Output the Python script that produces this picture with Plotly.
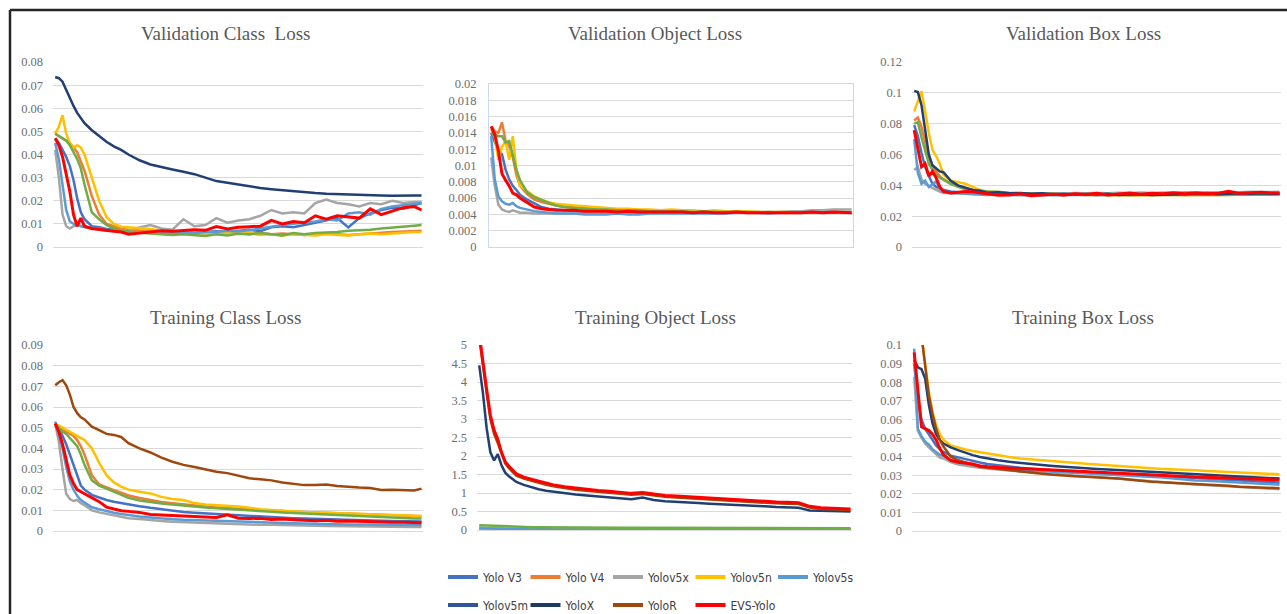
import plotly.graph_objects as go

# ---------------- data ----------------
EPOCHS = [0, 1, 2, 3, 4, 5, 6, 7, 8,
          10, 12, 14, 16, 18, 20,
          23, 26, 29, 32, 35, 38, 41, 44, 47, 50, 53, 56, 59, 62, 65, 68, 71, 74, 77, 80, 83, 86, 89, 92, 95, 98,
          100]

SERIES = ["Yolo V3", "Yolo V4", "Yolov5x", "Yolov5n", "Yolov5s", "Yolov5m", "YoloX", "YoloR", "EVS-Yolo"]

# Validation Class Loss
vcl_yolov3 = [0.047, 0.045, 0.042, 0.039, 0.035, 0.029, 0.021, 0.015, 0.012,
              0.009, 0.0085, 0.0078, 0.0075, 0.007, 0.0062,
              0.006, 0.0065, 0.006, 0.0062, 0.0068, 0.006, 0.0065, 0.0068, 0.0065, 0.007, 0.0075, 0.0068, 0.0085,
              0.009, 0.0085, 0.0095, 0.0105, 0.0115, 0.0125, 0.0085, 0.0125, 0.0145, 0.016, 0.017, 0.0165, 0.018,
              0.019]
vcl_yolov4 = [0.049, 0.048, 0.047, 0.046, 0.045, 0.043, 0.041, 0.037, 0.033,
              0.022, 0.014, 0.010, 0.009, 0.008, 0.0075,
              0.007, 0.0068, 0.0065, 0.006, 0.0062, 0.0058, 0.006, 0.0055, 0.006, 0.0058, 0.0055, 0.006, 0.0055,
              0.0058, 0.0055, 0.0052, 0.0055, 0.0058, 0.0055, 0.0052, 0.0055, 0.006, 0.0062, 0.0065, 0.0068, 0.007,
              0.007]
vcl_yolov5x = [0.042, 0.030, 0.014, 0.009, 0.008, 0.009, 0.0095, 0.009, 0.0085,
               0.008, 0.0075, 0.007, 0.0072, 0.0068, 0.007,
               0.0085, 0.0095, 0.008, 0.0075, 0.012, 0.009, 0.0095, 0.0125, 0.0105, 0.0115, 0.012, 0.0135, 0.016,
               0.0145, 0.015, 0.0145, 0.019, 0.0205, 0.019, 0.0185, 0.0175, 0.019, 0.0185, 0.02, 0.019, 0.0195,
               0.0195]
vcl_yolov5n = [0.049, 0.052, 0.057, 0.049, 0.045, 0.043, 0.044, 0.043, 0.040,
               0.030, 0.020, 0.013, 0.010, 0.0088, 0.0085,
               0.008, 0.0078, 0.007, 0.0065, 0.0068, 0.006, 0.0062, 0.0058, 0.006, 0.0055, 0.006, 0.0052, 0.0055,
               0.005, 0.0055, 0.0052, 0.005, 0.0055, 0.0052, 0.005, 0.0055, 0.0058, 0.0055, 0.006, 0.0062, 0.0065,
               0.0065]
vcl_yolov5s = [0.045, 0.038, 0.027, 0.016, 0.011, 0.010, 0.0098, 0.009, 0.0088,
               0.0085, 0.008, 0.0075, 0.007, 0.0068, 0.0065,
               0.0062, 0.006, 0.0058, 0.006, 0.0062, 0.006, 0.0065, 0.0065, 0.007, 0.0068, 0.0072, 0.008, 0.0088,
               0.0095, 0.010, 0.0105, 0.011, 0.012, 0.0115, 0.0145, 0.015, 0.014, 0.0165, 0.0175, 0.018, 0.0185,
               0.019]
vcl_yolov5m = [0.049, 0.048, 0.047, 0.046, 0.044, 0.041, 0.038, 0.034, 0.027,
               0.015, 0.012, 0.0095, 0.008, 0.007, 0.0068,
               0.0062, 0.0058, 0.0055, 0.0052, 0.0055, 0.005, 0.0048, 0.0055, 0.005, 0.0058, 0.0055, 0.006, 0.0055,
               0.005, 0.006, 0.0055, 0.006, 0.0062, 0.0065, 0.007, 0.0072, 0.0075, 0.008, 0.0085, 0.009, 0.0092,
               0.0095]
vcl_yolox = [0.0735, 0.073, 0.0715, 0.068, 0.064, 0.061, 0.058, 0.0555, 0.0535,
             0.0505, 0.0478, 0.0455, 0.0435, 0.042, 0.040,
             0.0375, 0.0357, 0.0345, 0.0335, 0.0325, 0.0315, 0.030, 0.0285, 0.0278, 0.027, 0.0262, 0.0255, 0.025,
             0.0245, 0.024, 0.0238, 0.0233, 0.023, 0.0228, 0.0227, 0.0224, 0.0225, 0.0223, 0.0222, 0.0224, 0.0223,
             0.0223]
vcl_evs = [0.047, 0.044, 0.039, 0.031, 0.024, 0.014, 0.009, 0.0125, 0.009,
           0.008, 0.0075, 0.0072, 0.0068, 0.0065, 0.0055,
           0.006, 0.0065, 0.007, 0.0068, 0.0072, 0.0075, 0.0072, 0.0088, 0.0078, 0.0085, 0.0088, 0.009, 0.0115,
           0.010, 0.011, 0.0105, 0.0135, 0.012, 0.0135, 0.013, 0.0125, 0.0165, 0.014, 0.0155, 0.017, 0.0175,
           0.016]

# Validation Object Loss
vol_yolov3 = [0.014, 0.0128, 0.0118, 0.0114, 0.0095, 0.0083, 0.0075, 0.0070, 0.0064,
              0.0058, 0.0053, 0.0049, 0.0047, 0.0046, 0.0045,
              0.0044, 0.0043, 0.0043, 0.0043, 0.0043, 0.0042, 0.0043, 0.0042, 0.0043, 0.0042, 0.0042, 0.0043, 0.0042,
              0.0042, 0.0042, 0.0043, 0.0042, 0.0042, 0.0042, 0.0042, 0.0043, 0.0042, 0.0042, 0.0043, 0.0042, 0.0042,
              0.0042]
vol_yolov4 = [0.0148, 0.0142, 0.014, 0.0153, 0.013, 0.0124, 0.011, 0.0088, 0.0075,
              0.0065, 0.0058, 0.0055, 0.0053, 0.0051, 0.005,
              0.0049, 0.0048, 0.0047, 0.0046, 0.0046, 0.0045, 0.0045, 0.0045, 0.0044, 0.0044, 0.0044, 0.0044, 0.0043,
              0.0044, 0.0043, 0.0043, 0.0043, 0.0043, 0.0042, 0.0043, 0.0042, 0.0042, 0.0042, 0.0042, 0.0042, 0.0042,
              0.0042]
vol_yolov5x = [0.011, 0.0075, 0.0052, 0.0046, 0.0044, 0.0043, 0.0045, 0.0043, 0.0042,
               0.0042, 0.0041, 0.0041, 0.0041, 0.0041, 0.0041,
               0.0041, 0.0041, 0.0041, 0.0041, 0.0042, 0.0041, 0.0041, 0.0042, 0.0042, 0.0042, 0.0042, 0.0042, 0.0042,
               0.0043, 0.0042, 0.0043, 0.0043, 0.0043, 0.0043, 0.0043, 0.0044, 0.0044, 0.0045, 0.0045, 0.0046, 0.0046,
               0.0046]
vol_yolov5n = [0.0145, 0.0135, 0.0107, 0.0123, 0.013, 0.0107, 0.0136, 0.0095, 0.0075,
               0.0069, 0.0062, 0.0058, 0.0055, 0.0053, 0.0052,
               0.0051, 0.005, 0.0049, 0.0048, 0.0047, 0.0047, 0.0046, 0.0046, 0.0045, 0.0046, 0.0045, 0.0045, 0.0044,
               0.0045, 0.0044, 0.0044, 0.0044, 0.0043, 0.0043, 0.0043, 0.0043, 0.0042, 0.0042, 0.0042, 0.0042, 0.0042,
               0.0042]
vol_yolov5s = [0.0136, 0.0083, 0.0062, 0.0056, 0.0053, 0.0052, 0.0054, 0.005, 0.0048,
               0.0046, 0.0044, 0.0043, 0.0042, 0.0041, 0.0041,
               0.0041, 0.004, 0.004, 0.004, 0.0041, 0.004, 0.004, 0.0041, 0.0041, 0.0041, 0.0041, 0.0041, 0.0041,
               0.0041, 0.0041, 0.0042, 0.0042, 0.0042, 0.0041, 0.0042, 0.0042, 0.0042, 0.0042, 0.0042, 0.0042, 0.0042,
               0.0042]
vol_yolov5m = [0.014, 0.0138, 0.0136, 0.0136, 0.0128, 0.013, 0.0112, 0.0095, 0.0082,
               0.0067, 0.0061, 0.0057, 0.0054, 0.0051, 0.0049,
               0.0048, 0.0047, 0.0046, 0.0046, 0.0045, 0.0045, 0.0045, 0.0044, 0.0044, 0.0044, 0.0044, 0.0043, 0.0044,
               0.0043, 0.0043, 0.0043, 0.0043, 0.0042, 0.0043, 0.0042, 0.0042, 0.0042, 0.0042, 0.0042, 0.0042, 0.0042,
               0.0042]
vol_evs = [0.0148, 0.0138, 0.0118, 0.009, 0.0082, 0.0075, 0.0066, 0.0064, 0.006,
           0.0054, 0.0049, 0.0047, 0.0046, 0.0045, 0.0045,
           0.0045, 0.0044, 0.0044, 0.0044, 0.0043, 0.0044, 0.0043, 0.0043, 0.0043, 0.0043, 0.0043, 0.0042, 0.0043,
           0.0042, 0.0042, 0.0043, 0.0042, 0.0042, 0.0042, 0.0042, 0.0042, 0.0042, 0.0043, 0.0042, 0.0043, 0.0042,
           0.0042]

# Validation Box Loss
vbl_yolov3 = [0.079, 0.072, 0.061, 0.052, 0.046, 0.041, 0.039, 0.038, 0.037,
              0.036, 0.0355, 0.035, 0.0352, 0.0348, 0.0345,
              0.0345, 0.0342, 0.0345, 0.034, 0.0343, 0.0345, 0.034, 0.0343, 0.0345, 0.0342, 0.034, 0.0344, 0.0342,
              0.0345, 0.0343, 0.0345, 0.0342, 0.0345, 0.0347, 0.0345, 0.0343, 0.0346, 0.0345, 0.0347, 0.0345, 0.0346,
              0.0345]
vbl_yolov4 = [0.082, 0.084, 0.078, 0.068, 0.058, 0.052, 0.049, 0.046, 0.044,
              0.041, 0.0395, 0.038, 0.037, 0.036, 0.0355,
              0.035, 0.0348, 0.0345, 0.0342, 0.0345, 0.034, 0.0338, 0.0342, 0.034, 0.0338, 0.0342, 0.034, 0.0337,
              0.034, 0.0338, 0.0342, 0.034, 0.0338, 0.0341, 0.034, 0.0342, 0.0339, 0.0341, 0.034, 0.0342, 0.034,
              0.034]
vbl_yolov5x = [0.050, 0.052, 0.044, 0.041, 0.0395, 0.038, 0.037, 0.036, 0.035,
               0.0348, 0.0345, 0.0345, 0.0343, 0.0345, 0.0342,
               0.0345, 0.0343, 0.0345, 0.0347, 0.0345, 0.0348, 0.0346, 0.035, 0.0348, 0.0351, 0.0349, 0.0352, 0.035,
               0.0353, 0.0351, 0.0354, 0.0352, 0.0355, 0.0353, 0.0355, 0.0354, 0.0357, 0.0355, 0.0358, 0.0356, 0.0358,
               0.0358]
vbl_yolov5n = [0.088, 0.095, 0.101, 0.088, 0.074, 0.063, 0.059, 0.054, 0.047,
               0.043, 0.042, 0.041, 0.039, 0.037, 0.036,
               0.0355, 0.035, 0.035, 0.0345, 0.034, 0.0342, 0.0338, 0.034, 0.0337, 0.0339, 0.0336, 0.0338, 0.0336,
               0.0337, 0.0335, 0.0338, 0.0336, 0.0337, 0.0338, 0.0336, 0.0338, 0.0337, 0.0339, 0.0338, 0.034, 0.0339,
               0.034]
vbl_yolov5s = [0.070, 0.048, 0.041, 0.043, 0.039, 0.041, 0.0425, 0.038, 0.036,
               0.035, 0.035, 0.0345, 0.0342, 0.034, 0.0338,
               0.034, 0.0337, 0.0335, 0.0338, 0.0336, 0.0338, 0.0335, 0.0337, 0.0339, 0.0336, 0.0338, 0.034, 0.0338,
               0.0341, 0.0339, 0.0342, 0.034, 0.0343, 0.0341, 0.0344, 0.0342, 0.0345, 0.0343, 0.0345, 0.0344, 0.0345,
               0.0345]
vbl_yolov5m = [0.080, 0.081, 0.071, 0.062, 0.054, 0.050, 0.047, 0.045, 0.0435,
               0.041, 0.039, 0.0375, 0.037, 0.0365, 0.036,
               0.0358, 0.035, 0.0348, 0.0345, 0.0342, 0.0345, 0.034, 0.0342, 0.0338, 0.034, 0.0337, 0.0339, 0.0336,
               0.0338, 0.0336, 0.0338, 0.0337, 0.0339, 0.0337, 0.0339, 0.0338, 0.034, 0.0338, 0.034, 0.0339, 0.034,
               0.034]
vbl_yolox = [0.1013, 0.1005, 0.092, 0.075, 0.060, 0.053, 0.051, 0.049, 0.0485,
             0.043, 0.040, 0.0385, 0.037, 0.0365, 0.0352,
             0.0355, 0.0348, 0.035, 0.0345, 0.0348, 0.0342, 0.0345, 0.034, 0.0343, 0.034, 0.0345, 0.0338, 0.034,
             0.0342, 0.0338, 0.034, 0.0342, 0.034, 0.0343, 0.0345, 0.0342, 0.0345, 0.0348, 0.0345, 0.0348, 0.0345,
             0.0345]
vbl_evs = [0.0758, 0.063, 0.052, 0.054, 0.046, 0.049, 0.045, 0.039, 0.036,
           0.035, 0.0355, 0.036, 0.0358, 0.0352, 0.0345,
           0.0336, 0.0338, 0.0345, 0.0332, 0.0338, 0.0342, 0.0338, 0.0345, 0.034, 0.0348, 0.0338, 0.0345, 0.035,
           0.0342, 0.0348, 0.0345, 0.0352, 0.0345, 0.035, 0.0345, 0.0348, 0.0362, 0.0348, 0.0352, 0.0355, 0.035,
           0.035]

# Training Class Loss
tcl_yolov3 = [0.052, 0.049, 0.046, 0.042, 0.037, 0.032, 0.026, 0.022, 0.020,
              0.0175, 0.0162, 0.015, 0.0142, 0.0135, 0.0128,
              0.012, 0.0112, 0.0105, 0.0098, 0.0092, 0.0088, 0.0085, 0.008, 0.0078, 0.0075, 0.0072, 0.007, 0.0068,
              0.0065, 0.0062, 0.006, 0.0058, 0.0056, 0.0055, 0.0053, 0.0052, 0.005, 0.0049, 0.0048, 0.0047, 0.0046,
              0.0046]
tcl_yolov4 = [0.052, 0.050, 0.049, 0.048, 0.047, 0.046, 0.044, 0.041, 0.037,
              0.027, 0.0225, 0.021, 0.0198, 0.0185, 0.0172,
              0.016, 0.015, 0.014, 0.0134, 0.0128, 0.0122, 0.0118, 0.0114, 0.011, 0.0107, 0.0104, 0.0101, 0.0099,
              0.0096, 0.0094, 0.0092, 0.009, 0.0088, 0.0086, 0.0084, 0.0082, 0.008, 0.0078, 0.0076, 0.0074, 0.0072,
              0.0071]
tcl_yolov5x = [0.052, 0.043, 0.030, 0.018, 0.0155, 0.0145, 0.015, 0.0135, 0.0125,
               0.010, 0.009, 0.0083, 0.0075, 0.007, 0.0062,
               0.0058, 0.0052, 0.0048, 0.0045, 0.0043, 0.004, 0.0038, 0.0036, 0.0035, 0.0033, 0.0032, 0.003, 0.003,
               0.0028, 0.0027, 0.0026, 0.0025, 0.0024, 0.0023, 0.0022, 0.0022, 0.0021, 0.002, 0.002, 0.0019, 0.0019,
               0.0019]
tcl_yolov5n = [0.052, 0.051, 0.050, 0.049, 0.048, 0.047, 0.046, 0.045, 0.044,
               0.040, 0.033, 0.027, 0.0235, 0.0215, 0.020,
               0.019, 0.0182, 0.0165, 0.0155, 0.015, 0.0135, 0.0128, 0.0125, 0.012, 0.0118, 0.0112, 0.0105, 0.0102,
               0.0098, 0.0095, 0.0092, 0.009, 0.0087, 0.0086, 0.0085, 0.0083, 0.008, 0.0078, 0.0077, 0.0075, 0.0074,
               0.0072]
tcl_yolov5s = [0.053, 0.047, 0.040, 0.031, 0.024, 0.020, 0.017, 0.015, 0.0138,
               0.0115, 0.0105, 0.0095, 0.0088, 0.0082, 0.0076,
               0.007, 0.0065, 0.006, 0.0057, 0.0054, 0.0052, 0.005, 0.0048, 0.0046, 0.0045, 0.0043, 0.0042, 0.004,
               0.0039, 0.0038, 0.0036, 0.0035, 0.0034, 0.0033, 0.0032, 0.0032, 0.0031, 0.003, 0.003, 0.0029, 0.0029,
               0.0029]
tcl_yolov5m = [0.052, 0.050, 0.048, 0.047, 0.045, 0.043, 0.041, 0.037, 0.032,
               0.0245, 0.022, 0.0205, 0.019, 0.0175, 0.016,
               0.0148, 0.014, 0.0133, 0.0128, 0.0122, 0.0118, 0.0114, 0.011, 0.0106, 0.0102, 0.0099, 0.0095, 0.0093,
               0.009, 0.0087, 0.0085, 0.0082, 0.008, 0.0077, 0.0075, 0.0072, 0.007, 0.0067, 0.0065, 0.0063, 0.0061,
               0.006]
tcl_yolor = [0.0705, 0.072, 0.073, 0.0705, 0.066, 0.060, 0.057, 0.055, 0.054,
             0.0505, 0.0488, 0.047, 0.0465, 0.0455, 0.0425,
             0.040, 0.038, 0.0355, 0.0335, 0.032, 0.031, 0.0298, 0.0287, 0.028, 0.0268, 0.0255, 0.025, 0.0245,
             0.0235, 0.0228, 0.0222, 0.0222, 0.0225, 0.0218, 0.0213, 0.021, 0.0208, 0.0198, 0.020, 0.0197, 0.0196,
             0.0205]
tcl_evs = [0.052, 0.048, 0.042, 0.034, 0.027, 0.023, 0.020, 0.019, 0.018,
           0.016, 0.0142, 0.0115, 0.0105, 0.0098, 0.0095,
           0.009, 0.008, 0.0078, 0.0075, 0.0072, 0.007, 0.0068, 0.0065, 0.0078, 0.0062, 0.006, 0.0062, 0.0056,
           0.0058, 0.0055, 0.0052, 0.005, 0.0052, 0.0047, 0.0048, 0.0046, 0.0045, 0.0043, 0.0042, 0.0042, 0.004,
           0.004]

# Training Object Loss
tol_yolov3 = [0.06, 0.055, 0.05, 0.046, 0.042, 0.039, 0.036, 0.034, 0.032,
              0.03, 0.028, 0.027, 0.026, 0.025, 0.024,
              0.023, 0.022, 0.022, 0.021, 0.021, 0.02, 0.02, 0.02, 0.019, 0.019, 0.019, 0.018, 0.018,
              0.018, 0.018, 0.017, 0.017, 0.017, 0.017, 0.016, 0.016, 0.016, 0.016, 0.016, 0.015, 0.015,
              0.015]
tol_yolov4 = [0.04, 0.037, 0.034, 0.031, 0.029, 0.027, 0.025, 0.023, 0.022,
              0.02, 0.019, 0.018, 0.017, 0.016, 0.015,
              0.015, 0.014, 0.014, 0.013, 0.013, 0.013, 0.012, 0.012, 0.012, 0.012, 0.011, 0.011, 0.011,
              0.011, 0.011, 0.011, 0.01, 0.01, 0.01, 0.01, 0.01, 0.01, 0.01, 0.01, 0.01, 0.01,
              0.01]
tol_yolov5x = [0.03, 0.027, 0.024, 0.022, 0.02, 0.019, 0.018, 0.017, 0.016,
               0.015, 0.014, 0.013, 0.013, 0.012, 0.012,
               0.011, 0.011, 0.011, 0.01, 0.01, 0.01, 0.01, 0.01, 0.009, 0.009, 0.009, 0.009, 0.009,
               0.009, 0.009, 0.008, 0.008, 0.008, 0.008, 0.008, 0.008, 0.008, 0.008, 0.008, 0.008, 0.008,
               0.008]
tol_yolov5n = [0.05, 0.047, 0.044, 0.041, 0.039, 0.037, 0.035, 0.033, 0.032,
               0.03, 0.029, 0.028, 0.027, 0.026, 0.025,
               0.025, 0.024, 0.024, 0.023, 0.023, 0.023, 0.022, 0.022, 0.022, 0.022, 0.021, 0.021, 0.021,
               0.021, 0.021, 0.021, 0.02, 0.02, 0.02, 0.02, 0.02, 0.02, 0.02, 0.02, 0.02, 0.02,
               0.02]
tol_yolov5s = [0.045, 0.041, 0.037, 0.034, 0.031, 0.029, 0.027, 0.025, 0.024,
               0.022, 0.021, 0.02, 0.019, 0.018, 0.017,
               0.017, 0.016, 0.016, 0.015, 0.015, 0.015, 0.014, 0.014, 0.014, 0.014, 0.013, 0.013, 0.013,
               0.013, 0.013, 0.013, 0.012, 0.012, 0.012, 0.012, 0.012, 0.012, 0.012, 0.012, 0.012, 0.012,
               0.012]
tol_yolov5m = [0.13, 0.125, 0.12, 0.115, 0.11, 0.105, 0.1, 0.095, 0.09,
               0.085, 0.08, 0.076, 0.073, 0.07, 0.068,
               0.066, 0.064, 0.062, 0.061, 0.06, 0.059, 0.058, 0.057, 0.056, 0.056, 0.055, 0.055, 0.054,
               0.054, 0.053, 0.053, 0.052, 0.052, 0.052, 0.051, 0.051, 0.051, 0.05, 0.05, 0.05, 0.05,
               0.05]
tol_yolox = [4.45, 3.7, 2.75, 2.1, 1.88, 2.05, 1.75, 1.55, 1.45,
             1.30, 1.22, 1.15, 1.10, 1.06, 1.03,
             0.99, 0.96, 0.93, 0.90, 0.88, 0.86, 0.83, 0.88, 0.81, 0.78, 0.77, 0.75, 0.73,
             0.71, 0.70, 0.68, 0.66, 0.65, 0.64, 0.62, 0.61, 0.60, 0.53, 0.52, 0.51, 0.50,
             0.50]
tol_yolor = [5.2, 4.4, 3.7, 3.0, 2.6, 2.35, 2.05, 1.8, 1.67,
             1.47, 1.39, 1.33, 1.28, 1.22, 1.18,
             1.13, 1.09, 1.06, 1.03, 1.01, 0.99, 0.95, 0.97, 0.93, 0.90, 0.88, 0.86, 0.84,
             0.82, 0.80, 0.78, 0.77, 0.75, 0.74, 0.72, 0.71, 0.70, 0.61, 0.57, 0.56, 0.55,
             0.54]
tol_evs = [5.3, 4.5, 3.8, 3.1, 2.7, 2.45, 2.1, 1.85, 1.72,
           1.52, 1.43, 1.37, 1.32, 1.26, 1.22,
           1.17, 1.13, 1.10, 1.07, 1.05, 1.03, 0.99, 1.01, 0.97, 0.93, 0.92, 0.90, 0.88,
           0.86, 0.84, 0.82, 0.80, 0.79, 0.77, 0.76, 0.75, 0.74, 0.64, 0.60, 0.59, 0.58,
           0.57]

# Training Box Loss
tbl_yolov3 = [0.09, 0.07, 0.06, 0.055, 0.052, 0.049, 0.046, 0.044, 0.0425,
              0.0405, 0.0395, 0.0385, 0.0375, 0.0368, 0.036,
              0.0352, 0.0346, 0.034, 0.0335, 0.033, 0.0326, 0.0322, 0.032, 0.0317, 0.0313, 0.031, 0.0306, 0.0303,
              0.03, 0.0296, 0.0292, 0.0289, 0.0286, 0.0283, 0.028, 0.0277, 0.0274, 0.0271, 0.0268, 0.0265, 0.0262,
              0.026]
tbl_yolov5x = [0.083, 0.054, 0.050, 0.047, 0.045, 0.043, 0.041, 0.0395, 0.039,
               0.037, 0.0358, 0.035, 0.0345, 0.034, 0.0335,
               0.033, 0.0325, 0.032, 0.0315, 0.031, 0.0305, 0.03, 0.0297, 0.0293, 0.029, 0.0285, 0.028, 0.0276,
               0.0272, 0.0268, 0.0262, 0.0258, 0.0254, 0.025, 0.0247, 0.0243, 0.024, 0.0237, 0.0233, 0.023, 0.0227,
               0.0225]
tbl_yolov5n = [0.115, 0.11, 0.105, 0.09, 0.075, 0.064, 0.057, 0.052, 0.049,
               0.046, 0.0448, 0.0438, 0.043, 0.0423, 0.0418,
               0.0408, 0.0398, 0.039, 0.0385, 0.0378, 0.0373, 0.0369, 0.0366, 0.0362, 0.0358, 0.0353, 0.035, 0.0345,
               0.034, 0.0337, 0.0334, 0.033, 0.0328, 0.0326, 0.0323, 0.032, 0.0318, 0.0315, 0.0313, 0.031, 0.0307,
               0.0305]
tbl_yolov5s = [0.098, 0.055, 0.051, 0.048, 0.0465, 0.044, 0.0425, 0.041, 0.0405,
               0.038, 0.037, 0.036, 0.0355, 0.035, 0.0345,
               0.034, 0.0333, 0.0328, 0.0325, 0.0322, 0.032, 0.0318, 0.0315, 0.0312, 0.031, 0.0305, 0.0302, 0.03,
               0.0295, 0.0292, 0.0288, 0.0282, 0.0276, 0.0272, 0.027, 0.0266, 0.0263, 0.026, 0.0257, 0.0254, 0.0251,
               0.0248]
tbl_yolox = [0.092, 0.088, 0.087, 0.082, 0.068, 0.058, 0.052, 0.049, 0.047,
             0.045, 0.0435, 0.042, 0.0408, 0.0398, 0.039,
             0.038, 0.0372, 0.0365, 0.036, 0.0355, 0.035, 0.0345, 0.034, 0.0337, 0.0334, 0.033, 0.0327, 0.0324,
             0.032, 0.0317, 0.0314, 0.031, 0.0306, 0.0303, 0.03, 0.0298, 0.0295, 0.0292, 0.029, 0.0287, 0.0284,
             0.0282]
tbl_yolor = [0.13, 0.12, 0.105, 0.088, 0.073, 0.063, 0.055, 0.049, 0.0455,
             0.040, 0.038, 0.0368, 0.0355, 0.0345, 0.034,
             0.0333, 0.0325, 0.032, 0.0315, 0.0308, 0.0302, 0.0297, 0.0295, 0.0292, 0.029, 0.0285, 0.0282, 0.0278,
             0.027, 0.0265, 0.0262, 0.026, 0.0257, 0.0255, 0.0252, 0.0248, 0.0243, 0.0238, 0.0235, 0.0232, 0.023,
             0.023]
tbl_evs = [0.096, 0.075, 0.056, 0.055, 0.054, 0.052, 0.049, 0.0445, 0.041,
           0.038, 0.037, 0.0365, 0.036, 0.035, 0.0345,
           0.0342, 0.0338, 0.0336, 0.0333, 0.033, 0.0328, 0.0325, 0.0322, 0.032, 0.0316, 0.0312, 0.031, 0.0306,
           0.0302, 0.03, 0.0296, 0.0293, 0.0292, 0.029, 0.0289, 0.0287, 0.0285, 0.0283, 0.028, 0.0278, 0.0276,
           0.0274]

# Axis tick labels
vcl_ticks = ["0", "0.01", "0.02", "0.03", "0.04", "0.05", "0.06", "0.07", "0.08"]
vol_ticks = ["0", "0.002", "0.004", "0.006", "0.008", "0.01", "0.012", "0.014", "0.016", "0.018", "0.02"]
vbl_ticks = ["0", "0.02", "0.04", "0.06", "0.08", "0.1", "0.12"]
tcl_ticks = ["0", "0.01", "0.02", "0.03", "0.04", "0.05", "0.06", "0.07", "0.08", "0.09"]
tol_ticks = ["0", "0.5", "1", "1.5", "2", "2.5", "3", "3.5", "4", "4.5", "5"]
tbl_ticks = ["0", "0.01", "0.02", "0.03", "0.04", "0.05", "0.06", "0.07", "0.08", "0.09", "0.1"]

TITLES = ["Validation Class\u00a0 Loss", "Validation Object Loss", "Validation Box Loss",
          "Training Class Loss", "Training Object Loss", "Training Box Loss"]

# ---------------- styling ----------------
PLOT_COLORS = {"Yolo V3": "#4472C4", "Yolo V4": "#ED7D31", "Yolov5x": "#A5A5A5", "Yolov5n": "#FFC000",
               "Yolov5s": "#5B9BD5", "Yolov5m": "#70AD47", "YoloX": "#213F73", "YoloR": "#9E480E",
               "EVS-Yolo": "#FF0000"}
LEGEND_COLORS = {"Yolo V3": "#4472C4", "Yolo V4": "#ED7D31", "Yolov5x": "#A5A5A5", "Yolov5n": "#FFC000",
                 "Yolov5s": "#5B9BD5", "Yolov5m": "#2F5597", "YoloX": "#1F3864", "YoloR": "#9E480E",
                 "EVS-Yolo": "#FF0000"}

W, H = 1287, 614

panels = [
    {"title": TITLES[0], "ticks": vcl_ticks, "px": (53, 423), "py": (247, 62), "tpos": (225, 33),
     "series": {"Yolo V3": vcl_yolov3, "Yolo V4": vcl_yolov4, "Yolov5x": vcl_yolov5x, "Yolov5n": vcl_yolov5n,
                "Yolov5s": vcl_yolov5s, "Yolov5m": vcl_yolov5m, "YoloX": vcl_yolox, "EVS-Yolo": vcl_evs}},
    {"title": TITLES[1], "ticks": vol_ticks, "px": (489, 853), "py": (247, 84), "tpos": (655, 33), "box": True,
     "series": {"Yolo V3": vol_yolov3, "Yolo V4": vol_yolov4, "Yolov5x": vol_yolov5x, "Yolov5n": vol_yolov5n,
                "Yolov5s": vol_yolov5s, "Yolov5m": vol_yolov5m, "EVS-Yolo": vol_evs}},
    {"title": TITLES[2], "ticks": vbl_ticks, "px": (912, 1281), "py": (247, 62), "tpos": (1083, 33),
     "series": {"Yolo V3": vbl_yolov3, "Yolo V4": vbl_yolov4, "Yolov5x": vbl_yolov5x, "Yolov5n": vbl_yolov5n,
                "Yolov5s": vbl_yolov5s, "Yolov5m": vbl_yolov5m, "YoloX": vbl_yolox, "EVS-Yolo": vbl_evs}},
    {"title": TITLES[3], "ticks": tcl_ticks, "px": (53, 423), "py": (531, 345), "tpos": (225, 317),
     "series": {"Yolo V3": tcl_yolov3, "Yolo V4": tcl_yolov4, "Yolov5x": tcl_yolov5x, "Yolov5n": tcl_yolov5n,
                "Yolov5s": tcl_yolov5s, "Yolov5m": tcl_yolov5m, "YoloR": tcl_yolor, "EVS-Yolo": tcl_evs}},
    {"title": TITLES[4], "ticks": tol_ticks, "px": (477, 852), "py": (530, 345), "tpos": (655, 317),
     "series": {"Yolo V3": tol_yolov3, "Yolo V4": tol_yolov4, "Yolov5x": tol_yolov5x, "Yolov5n": tol_yolov5n,
                "Yolov5s": tol_yolov5s, "Yolov5m": tol_yolov5m, "YoloX": tol_yolox, "YoloR": tol_yolor,
                "EVS-Yolo": tol_evs}},
    {"title": TITLES[5], "ticks": tbl_ticks, "px": (912, 1281), "py": (531, 345), "tpos": (1083, 317),
     "series": {"Yolo V3": tbl_yolov3, "Yolov5x": tbl_yolov5x, "Yolov5n": tbl_yolov5n, "Yolov5s": tbl_yolov5s,
                "YoloX": tbl_yolox, "YoloR": tbl_yolor, "EVS-Yolo": tbl_evs}},
]

fig = go.Figure()
layout = dict(width=W, height=H, margin=dict(l=0, r=0, t=0, b=0, pad=0, autoexpand=False),
              paper_bgcolor="white", plot_bgcolor="white", showlegend=True, annotations=[], shapes=[])

TICK_FONT = dict(family="Liberation Serif, Times New Roman, serif", size=12.5, color="#6E6E6E")

for i, p in enumerate(panels, start=1):
    sfx = "" if i == 1 else str(i)
    tickvals = [float(t) for t in p["ticks"]]
    ymax = tickvals[-1]
    x0, x1 = p["px"]
    yb, yt = p["py"]
    box = p.get("box", False)
    layout["xaxis" + sfx] = dict(domain=[x0 / W, x1 / W], range=[-0.6, 100.4], anchor="y" + sfx,
                                  showticklabels=False, showgrid=False, zeroline=False, ticks="",
                                  showline=box, mirror=box, linecolor="#C9D9EF", linewidth=1,
                                  fixedrange=True)
    layout["yaxis" + sfx] = dict(domain=[1 - yb / H, 1 - yt / H], range=[0, ymax], anchor="x" + sfx,
                                  tickmode="array", tickvals=tickvals, ticktext=p["ticks"],
                                  showgrid=True, gridcolor="#D9D9D9", gridwidth=1,
                                  zeroline=True, zerolinecolor="#D9D9D9", zerolinewidth=1,
                                  showline=box, mirror=box, linecolor="#C9D9EF", linewidth=1,
                                  ticks="", ticklabelstandoff=9, tickfont=TICK_FONT, fixedrange=True)
    for name in SERIES:
        if name not in p["series"]:
            continue
        vals = p["series"][name]
        assert len(vals) == len(EPOCHS), (p["title"], name, len(vals))
        fig.add_trace(go.Scatter(x=EPOCHS, y=vals, mode="lines", name=name, showlegend=False,
                                 line=dict(color=PLOT_COLORS[name], width=3 if name == "EVS-Yolo" else 2.5),
                                 xaxis="x" + sfx, yaxis="y" + sfx, hoverinfo="skip"))
    tx, ty = p["tpos"]
    layout["annotations"].append(dict(text=p["title"], x=tx / W, y=1 - ty / H, xref="paper", yref="paper",
                                      xanchor="center", yanchor="middle", showarrow=False,
                                      font=dict(family="Liberation Serif, Times New Roman, serif",
                                                size=19, color="#595959")))

# legend entries (legend-only traces)
for k, name in enumerate(SERIES):
    fig.add_trace(go.Scatter(x=[None], y=[None], mode="lines", name=name,
                             line=dict(color=LEGEND_COLORS[name], width=4),
                             legend="legend" if k < 5 else "legend2", hoverinfo="skip",
                             legendwidth=70 if name in ("Yolov5s", "EVS-Yolo") else None))

LEG_FONT = dict(family="DejaVu Sans Condensed, Liberation Sans Narrow, Arial Narrow, sans-serif",
                size=12, color="#404040")
layout["legend"] = dict(orientation="h", x=443 / W, y=1 - 577 / H, xanchor="left", yanchor="middle",
                        entrywidth=37.5, font=LEG_FONT, bgcolor="rgba(0,0,0,0)", itemclick=False,
                        itemdoubleclick=False)
layout["legend2"] = dict(orientation="h", x=443 / W, y=1 - 605 / H, xanchor="left", yanchor="middle",
                         entrywidth=37.5, font=LEG_FONT, bgcolor="rgba(0,0,0,0)", itemclick=False,
                         itemdoubleclick=False)

# outer frame (top and left edges)
layout["shapes"].append(dict(type="line", xref="paper", yref="paper", x0=10 / W, x1=1, y0=1 - 10 / H,
                             y1=1 - 10 / H, line=dict(color="#262626", width=2.5)))
layout["shapes"].append(dict(type="line", xref="paper", yref="paper", x0=10 / W, x1=10 / W, y0=0,
                             y1=1 - 10 / H, line=dict(color="#262626", width=2.5)))

fig.update_layout(**layout)
fig.write_html("out.html", config={"displayModeBar": False})
